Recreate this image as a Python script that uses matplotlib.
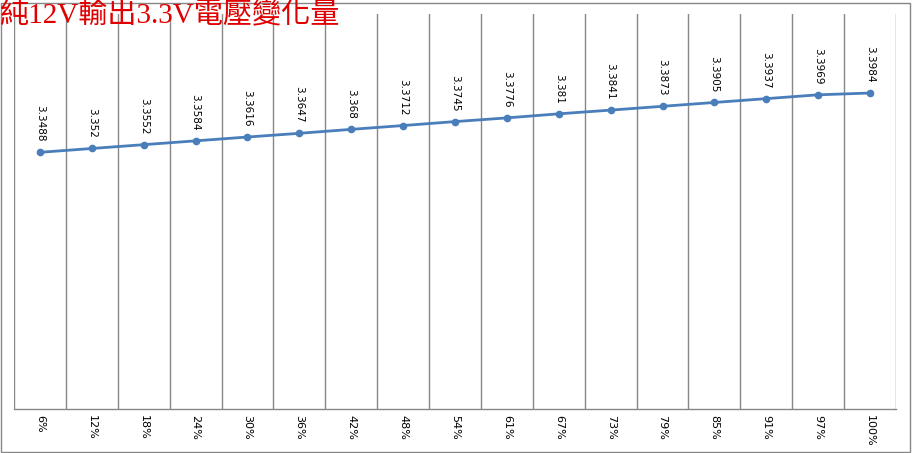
import matplotlib
matplotlib.use("Agg")
import matplotlib.pyplot as plt
from matplotlib.patches import Rectangle

categories = ["6%", "12%", "18%", "24%", "30%", "36%", "42%", "48%", "54%",
              "61%", "67%", "73%", "79%", "85%", "91%", "97%", "100%"]
voltages = [3.3488, 3.352, 3.3552, 3.3584, 3.3616, 3.3647, 3.368, 3.3712, 3.3745,
            3.3776, 3.381, 3.3841, 3.3873, 3.3905, 3.3937, 3.3969, 3.3984]
title = "純12V輸出3.3V電壓變化量"

W, H = 913, 453
fig = plt.figure(figsize=(W / 100, H / 100), dpi=100)
fig.patch.set_facecolor("white")

ax = fig.add_axes([14 / W, (H - 409) / H, (896 - 14) / W, (409 - 14) / H])
x = list(range(len(categories)))
ax.set_xlim(-0.5, len(categories) - 0.5)
ax.set_ylim(3.1341, 3.4645)

grid_color = "#878787"
for b in range(len(categories) + 1):
    ax.axvline(b - 0.5, color=grid_color, lw=1.0, zorder=1)

ax.plot(x, voltages, color="#4a7ebb", lw=2.0, marker="o", markersize=4.5,
        markerfacecolor="#4a7ebb", markeredgecolor="#4a7ebb", zorder=3)

for xi, v in zip(x, voltages):
    ax.annotate(f"{v:g}", (xi, v), xytext=(0, 7.5), textcoords="offset points",
                rotation=-90, ha="center", va="bottom", fontsize=7.5,
                color="black", family="DejaVu Sans")

for s in ["top", "right", "left"]:
    ax.spines[s].set_visible(False)
ax.spines["bottom"].set_color(grid_color)
ax.spines["bottom"].set_linewidth(1.0)
ax.set_yticks([])
ax.set_xticks(x)
ax.set_xticklabels(categories, rotation=-90, fontsize=8, va="top", ha="center")
ax.tick_params(axis="x", length=0, pad=4)

fig.text(0.0, 1.0 - 1 / H, title, color="#e00000", fontsize=21,
         family=["Liberation Serif", "Noto Sans CJK TC"], ha="left", va="top")

fig.patches.append(Rectangle((1 / W, 1 / H), (909) / W, (449) / H,
                             transform=fig.transFigure, fill=False,
                             edgecolor="#868686", lw=1.0))

fig.savefig("out.png", dpi=100)
